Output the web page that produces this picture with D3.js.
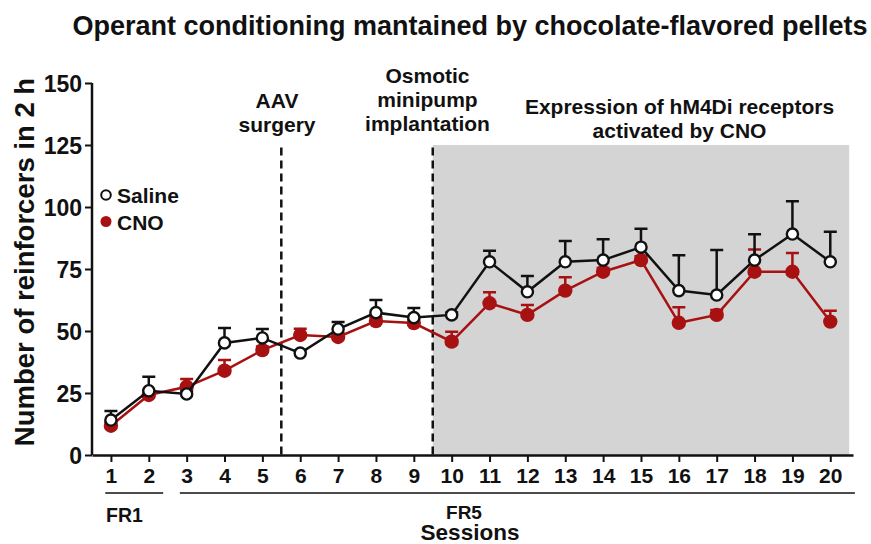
<!DOCTYPE html>
<html>
<head>
<meta charset="utf-8">
<script src="https://cdn.jsdelivr.net/npm/d3@7"></script>
<style>
  body { margin: 0; background: #fff; }
  text { font-family: "Liberation Sans", Arial, sans-serif; font-weight: bold; fill: #111; }
</style>
</head>
<body>
<svg width="871" height="544"></svg>
<script>
// data
var sessions = d3.range(1, 21);
var salineMean = [14.1, 25.9, 24.6, 45.2, 47.2, 41.1, 50.8, 57.4, 55.4, 56.5, 77.9, 65.8, 77.9, 78.6, 83.8, 66.3, 64.5, 78.6, 89.1, 77.9];
var salineSem = [3.6, 5.7, 1.0, 6.0, 3.6, 1.0, 2.8, 5.1, 3.9, 1.0, 4.5, 6.4, 8.4, 8.4, 7.4, 14.2, 18.2, 10.4, 13.2, 12.1];
var cnoMean = [11.8, 24.2, 27.5, 34.0, 42.3, 48.4, 47.6, 54.0, 53.2, 45.7, 61.2, 56.5, 66.3, 73.9, 78.6, 53.3, 56.5, 73.9, 73.9, 53.8];
var cnoSem = [1.5, 2.0, 3.1, 4.3, 1.5, 2.5, 1.5, 1.5, 1.5, 4.0, 4.4, 4.0, 5.4, 1.5, 1.5, 6.3, 2.0, 9.0, 7.6, 4.4];
var yTicks = [0, 25, 50, 75, 100, 125, 150];
var red = "#a81111";

var svg = d3.select("svg");

var x = d3.scaleLinear().domain([0.5, 20.6]).range([92, 853]);
var y = d3.scaleLinear().domain([0, 150]).range([455, 83]);

// shaded CNO period
svg.append("rect")
    .attr("x", x(9.5)).attr("y", y(125))
    .attr("width", x(20.5) - x(9.5)).attr("height", y(0) - y(125))
    .attr("fill", "#d4d4d4");

// dashed event lines
[5.5, 9.5].forEach(function(s) {
    svg.append("line")
        .attr("x1", x(s)).attr("x2", x(s))
        .attr("y1", y(124)).attr("y2", y(0))
        .attr("stroke", "#111").attr("stroke-width", 2.5)
        .attr("stroke-dasharray", "8,5");
});

// axes
var yAxis = svg.append("g")
    .attr("transform", "translate(" + x(0.5) + ",0)")
    .call(d3.axisLeft(y).tickValues(yTicks).tickSize(7).tickPadding(3));
var xAxis = svg.append("g")
    .attr("transform", "translate(0," + y(0) + ")")
    .call(d3.axisBottom(x).tickValues(sessions).tickSize(7).tickPadding(6).tickSizeOuter(0));
[yAxis, xAxis].forEach(function(a) {
    a.select(".domain").attr("stroke", "#111").attr("stroke-width", 2.5);
    a.selectAll(".tick line").attr("stroke", "#111").attr("stroke-width", 2);
    a.selectAll("text").attr("fill", "#111").style("font-family", "'Liberation Sans', Arial, sans-serif").style("font-weight", "bold");
});
yAxis.select(".domain").attr("d", "M0," + y(150) + "V" + y(0));
yAxis.selectAll("text").style("font-size", "23px").attr("dy", "0.36em");
xAxis.selectAll("text").style("font-size", "21px");

// FR1 / FR5 brackets
svg.append("line").attr("x1", x(0.85)).attr("x2", x(2.38)).attr("y1", 493).attr("y2", 493)
    .attr("stroke", "#111").attr("stroke-width", 1.5);
svg.append("line").attr("x1", x(2.82)).attr("x2", x(20.65)).attr("y1", 493).attr("y2", 493)
    .attr("stroke", "#111").attr("stroke-width", 1.5);
svg.append("text").attr("x", 106).attr("y", 522).style("font-size", "19.5px").text("FR1");
svg.append("text").attr("x", 464).attr("y", 519).attr("text-anchor", "middle").style("font-size", "19px").text("FR5");
svg.append("text").attr("x", 470).attr("y", 540).attr("text-anchor", "middle").style("font-size", "22.5px").text("Sessions");

// y label
svg.append("text")
    .attr("transform", "translate(34,262) rotate(-90)")
    .attr("text-anchor", "middle")
    .style("font-size", "27.5px")
    .text("Number of reinforcers in 2 h");

// title
svg.append("text").attr("x", 470).attr("y", 35).attr("text-anchor", "middle")
    .style("font-size", "27px")
    .text("Operant conditioning mantained by chocolate-flavored pellets");

// annotations
function multiline(cx, y0, lines) {
    lines.forEach(function(l, i) {
        svg.append("text").attr("x", cx).attr("y", y0 + i * 24)
            .attr("text-anchor", "middle").style("font-size", "21px").text(l);
    });
}
multiline(277, 108, ["AAV", "surgery"]);
multiline(427.5, 83, ["Osmotic", "minipump", "implantation"]);
multiline(679.5, 114, ["Expression of hM4Di receptors", "activated by CNO"]);

// series
function series(mean, sem, color, filled) {
    var pts = sessions.map(function(s, i) { return { s: s, m: mean[i], e: sem[i] }; });
    var g = svg.append("g");
    var line = d3.line().x(function(d) { return x(d.s); }).y(function(d) { return y(d.m); });
    g.append("path").datum(pts).attr("d", line)
        .attr("fill", "none").attr("stroke", color).attr("stroke-width", 2.5);
    g.selectAll(".eb").data(pts).enter().append("path")
        .attr("d", function(d) {
            var xx = x(d.s), top = y(d.m + d.e);
            return "M" + xx + "," + y(d.m) + "V" + top + "M" + (xx - 6.5) + "," + top + "H" + (xx + 6.5);
        })
        .attr("fill", "none").attr("stroke", color).attr("stroke-width", 2.5);
    g.selectAll("circle").data(pts).enter().append("circle")
        .attr("cx", function(d) { return x(d.s); })
        .attr("cy", function(d) { return y(d.m); })
        .attr("r", filled ? 7.2 : 5.6)
        .attr("fill", filled ? color : "#fff")
        .attr("stroke", filled ? "none" : color)
        .attr("stroke-width", 2.4);
}
series(cnoMean, cnoSem, red, true);
series(salineMean, salineSem, "#111", false);

// legend
svg.append("circle").attr("cx", 106).attr("cy", 195).attr("r", 4.8)
    .attr("fill", "#fff").attr("stroke", "#111").attr("stroke-width", 2);
svg.append("circle").attr("cx", 106).attr("cy", 221.5).attr("r", 5.5).attr("fill", red);
svg.append("text").attr("x", 117).attr("y", 203).style("font-size", "21px").text("Saline");
svg.append("text").attr("x", 117).attr("y", 229.5).style("font-size", "21px").text("CNO");
</script>
</body>
</html>
